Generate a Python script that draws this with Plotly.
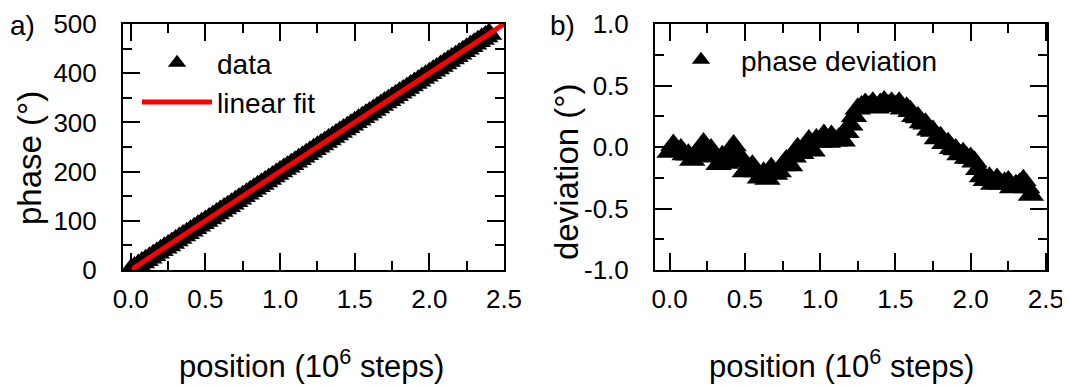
import plotly.graph_objects as go

# ---------------- data ----------------
position = [0.000, 0.025, 0.050, 0.075, 0.100, 0.125, 0.150, 0.175, 0.200, 0.225,
            0.250, 0.275, 0.300, 0.325, 0.350, 0.375, 0.400, 0.425, 0.450, 0.475,
            0.500, 0.525, 0.550, 0.575, 0.600, 0.625, 0.650, 0.675, 0.700, 0.725,
            0.750, 0.775, 0.800, 0.825, 0.850, 0.875, 0.900, 0.925, 0.950, 0.975,
            1.000, 1.025, 1.050, 1.075, 1.100, 1.125, 1.150, 1.175, 1.200, 1.225,
            1.250, 1.275, 1.300, 1.325, 1.350, 1.375, 1.400, 1.425, 1.450, 1.475,
            1.500, 1.525, 1.550, 1.575, 1.600, 1.625, 1.650, 1.675, 1.700, 1.725,
            1.750, 1.775, 1.800, 1.825, 1.850, 1.875, 1.900, 1.925, 1.950, 1.975,
            2.000, 2.025, 2.050, 2.075, 2.100, 2.125, 2.150, 2.175, 2.200, 2.225,
            2.250, 2.275, 2.300, 2.325, 2.350, 2.375, 2.400]

phase = [0.0, 5.0, 10.0, 15.0, 19.9, 24.9, 29.9, 34.9, 40.0, 45.0,
         50.0, 55.0, 59.9, 64.9, 69.9, 74.9, 79.9, 85.0, 90.0, 94.9,
         99.8, 104.8, 109.8, 114.8, 119.8, 124.8, 129.7, 134.8, 139.8, 144.8,
         149.9, 154.9, 159.9, 164.9, 170.0, 175.0, 180.0, 185.1, 190.0, 195.1,
         200.0, 205.1, 210.0, 215.1, 220.1, 225.1, 230.1, 235.1, 240.2, 245.3,
         250.3, 255.3, 260.4, 265.3, 270.4, 275.3, 280.4, 285.4, 290.3, 295.4,
         300.3, 305.4, 310.3, 315.3, 320.3, 325.3, 330.2, 335.2, 340.2, 345.1,
         350.1, 355.1, 360.1, 365.0, 370.0, 375.0, 380.0, 384.9, 390.0, 394.9,
         399.9, 404.9, 409.8, 414.8, 419.7, 424.8, 429.7, 434.7, 439.7, 444.7,
         449.7, 454.7, 459.7, 464.7, 469.7, 474.7, 479.6]

deviation = [-0.04, 0.016, -0.03, -0.02, -0.06, -0.062, -0.105, -0.07, -0.03, 0.028,
             -0.04, -0.02, -0.08, -0.14, -0.076, -0.13, -0.06, 0.012, -0.05, -0.12,
             -0.20, -0.17, -0.152, -0.20, -0.25, -0.21, -0.26, -0.172, -0.22, -0.20,
             -0.15, -0.11, -0.15, -0.08, -0.01, -0.05, 0.0, 0.053, -0.03, 0.06,
             0.04, 0.098, 0.04, 0.09, 0.05, 0.07, 0.05, 0.12, 0.18, 0.25,
             0.31, 0.33, 0.35, 0.33, 0.36, 0.32, 0.35, 0.37, 0.34, 0.36,
             0.33, 0.36, 0.31, 0.32, 0.29, 0.25, 0.24, 0.20, 0.19, 0.14,
             0.13, 0.07, 0.08, 0.03, 0.03, -0.01, -0.02, -0.06, -0.05, -0.09,
             -0.09, -0.12, -0.18, -0.24, -0.27, -0.25, -0.30, -0.26, -0.30, -0.29,
             -0.28, -0.33, -0.31, -0.30, -0.27, -0.33, -0.39]

fit_position = [0.0, 2.5]
fit_phase = [0.0, 500.0]

x_tickvals = [0.0, 0.5, 1.0, 1.5, 2.0, 2.5]
x_ticktext = ["0.0", "0.5", "1.0", "1.5", "2.0", "2.5"]
x_minorvals = [0.25, 0.75, 1.25, 1.75, 2.25]
phase_tickvals = [0, 100, 200, 300, 400, 500]
phase_ticktext = ["0", "100", "200", "300", "400", "500"]
phase_minorvals = [50, 150, 250, 350, 450]
dev_tickvals = [-1.0, -0.5, 0.0, 0.5, 1.0]
dev_ticktext = ["-1.0", "-0.5", "0.0", "0.5", "1.0"]
dev_minorvals = [-0.75, -0.25, 0.25, 0.75]

# ---------------- layout helpers ----------------
W, H = 1070, 385
OFF = 8  # the page body adds an 8px margin around the figure
FONT = "Liberation Sans, Arial, sans-serif"


def px(x):
    return (x - OFF) / W


def py(y):
    return 1 - (y - OFF) / H


fig = go.Figure()

fig.add_trace(go.Scatter(
    x=position, y=phase, mode="markers", name="data",
    marker=dict(symbol="triangle-up", size=23, color="black", line=dict(width=0)),
    xaxis="x", yaxis="y", legend="legend"))
fig.add_trace(go.Scatter(
    x=fit_position, y=fit_phase, mode="lines", name="linear fit",
    line=dict(color="#ff0000", width=5),
    xaxis="x", yaxis="y", legend="legend"))
fig.add_trace(go.Scatter(
    x=position, y=deviation, mode="markers", name="phase deviation",
    marker=dict(symbol="triangle-up", size=23, color="black", line=dict(width=0)),
    xaxis="x2", yaxis="y2", legend="legend2"))


def axis(domain, rng, tickvals, ticktext, minorvals, anchor, standoff):
    return dict(
        domain=domain, range=rng, anchor=anchor, automargin=False,
        showline=True, linecolor="black", linewidth=2, mirror="ticks",
        ticks="inside", ticklen=17, tickwidth=2, tickcolor="black",
        tickmode="array", tickvals=tickvals, ticktext=ticktext,
        minor=dict(tickmode="array", tickvals=minorvals, ticks="inside",
                   ticklen=9, tickwidth=2, tickcolor="black", showgrid=False),
        showgrid=False, zeroline=False, ticklabelstandoff=standoff,
        tickfont=dict(family=FONT, size=26, color="black"),
    )


ydom = [py(270), py(24)]
fig.update_layout(
    template="none",
    width=W, height=H, autosize=False,
    margin=dict(l=0, r=0, t=0, b=0, pad=0, autoexpand=False),
    paper_bgcolor="white", plot_bgcolor="white",
    font=dict(family=FONT, color="black"),
    xaxis=axis([px(123), px(504)], [-0.052, 2.5], x_tickvals, x_ticktext, x_minorvals, "y", 5),
    yaxis=axis(ydom, [0, 500], phase_tickvals, phase_ticktext, phase_minorvals, "x", 19),
    xaxis2=axis([px(655), px(1047)], [-0.097, 2.507], x_tickvals, x_ticktext, x_minorvals, "y2", 5),
    yaxis2=axis(ydom, [-1, 1], dev_tickvals, dev_ticktext, dev_minorvals, "x2", 19),
    legend=dict(x=px(137), y=py(38), xanchor="left", yanchor="top",
                bgcolor="rgba(0,0,0,0)", borderwidth=0, itemwidth=70,
                font=dict(family=FONT, size=28, color="black"), tracegroupgap=0),
    legend2=dict(x=px(661), y=py(35), xanchor="left", yanchor="top",
                 bgcolor="rgba(0,0,0,0)", borderwidth=0, itemwidth=70,
                 font=dict(family=FONT, size=28, color="black")),
    showlegend=True,
)

h_title = dict(family=FONT, size=31, color="black")
v_title = dict(family=FONT, size=33, color="black")
label_font = dict(family=FONT, size=28, color="black")
annotations = [
    dict(text="phase (°)", x=px(29), y=py(158), textangle=-90, font=v_title,
         yanchor="middle"),
    dict(text="deviation (°)", x=px(567), y=py(172), textangle=-90, font=v_title,
         yanchor="middle"),
    dict(text="position (10<sup>6</sup> steps)", x=px(311), y=py(364), font=h_title,
         yanchor="middle"),
    dict(text="position (10<sup>6</sup> steps)", x=px(841), y=py(364), font=h_title,
         yanchor="middle"),
    dict(text="a)", x=px(22), y=py(8), font=label_font, yanchor="top"),
    dict(text="b)", x=px(562), y=py(8), font=label_font, yanchor="top"),
]
for a in annotations:
    fig.add_annotation(xref="paper", yref="paper", showarrow=False,
                       xanchor="center", **a)

fig.write_html("out.html")
